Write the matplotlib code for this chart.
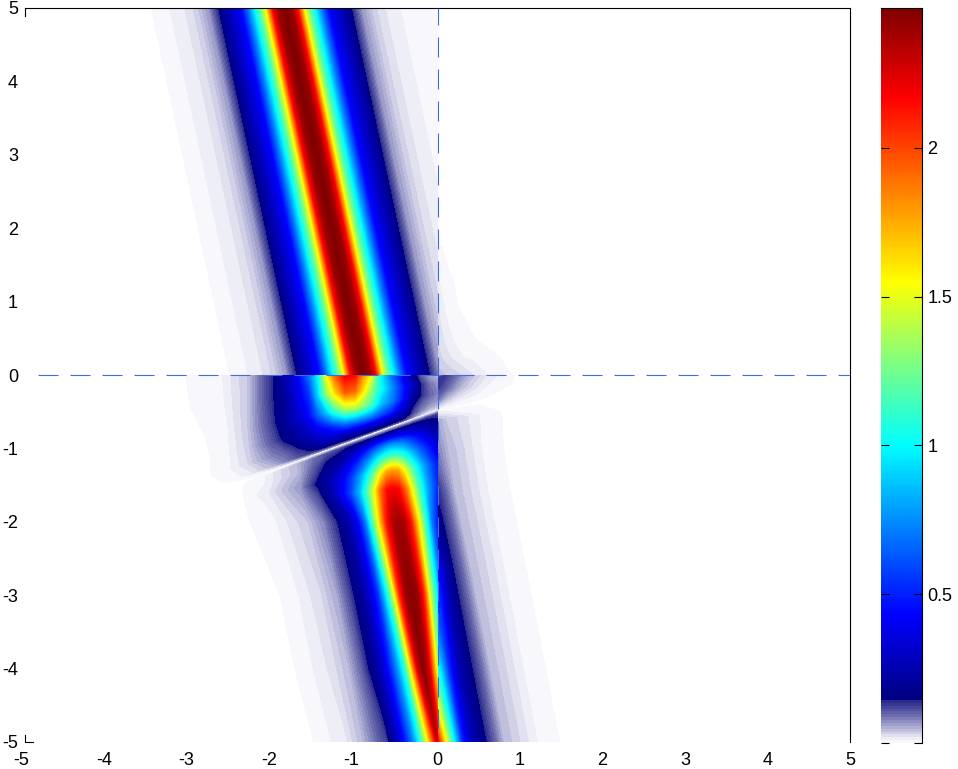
import numpy as np
import matplotlib
matplotlib.use("Agg")
import matplotlib.pyplot as plt
from matplotlib.colors import LinearSegmentedColormap, Normalize
from matplotlib.patches import Rectangle
from matplotlib.transforms import ScaledTranslation

plt.rcParams["font.family"] = ["Liberation Sans", "DejaVu Sans"]
plt.rcParams["axes.unicode_minus"] = False
plt.rcParams["lines.scale_dashes"] = False

###################
# Values read off #
###################
x_ticks = [-5, -4, -3, -2, -1, 0, 1, 2, 3, 4, 5]
y_ticks = [-5, -4, -3, -2, -1, 0, 1, 2, 3, 4, 5]
bar_ticks = [0, 0.5, 1, 1.5, 2]
bar_labels = ["", "0.5", "1", "1.5", "2"]
v_max = 2.47

# palette: value, colour
pal_values = [0, 0.013, 0.052, 0.086, 0.138, 0.14, 0.43, 1.0, 1.28, 1.55, 2.17, 2.47]
pal_colors = ["#f7f7fc", "#ebebf5", "#aaaad2", "#6e6eaf", "#28288c", "#000080",
              "#0000ff", "#00ffff", "#80ff80", "#ffff00", "#ff0000", "#800000"]

# upper band (y > 0, x < 0): row y, band centre, offset across the band, value
up_y = [5, 4, 3, 2, 1, 0]
up_centre = [-1.85, -1.66, -1.47, -1.28, -1.09, -0.9]
up_off = [-1.62, -1.48, -1.25, -1.07, -0.92, -0.81, -0.65, -0.52, -0.44, -0.36, -0.29, -0.23, -0.15, -0.08, 0,
          0.08, 0.15, 0.23, 0.29, 0.36, 0.44, 0.52, 0.65, 0.81, 0.92, 1.07, 1.25, 1.48, 1.7, 2.0]
up_vals = [0.0025, 0.008, 0.018, 0.035, 0.07, 0.14, 0.3, 0.45, 0.7, 1.0, 1.25, 1.55, 2.15, 2.4, 2.47,
           2.4, 2.15, 1.55, 1.25, 1.0, 0.7, 0.45, 0.3, 0.14, 0.07, 0.035, 0.018, 0.008, 0.003, 0]

# wisp right of x=0 above y=0
wisp_y = [0, 0.25, 0.5, 1, 1.75]
wisp_x = [0, 0.1, 0.2, 0.3, 0.45, 0.6, 0.9]
wisp_z = [[0.045, 0.04, 0.035, 0.03, 0.02, 0.012, 0.002],
          [0.035, 0.025, 0.018, 0.012, 0.008, 0.004, 0],
          [0.03, 0.018, 0.01, 0.006, 0.002, 0, 0],
          [0.02, 0.008, 0.003, 0, 0, 0, 0],
          [0.004, 0, 0, 0, 0, 0, 0]]

# piece between y=0 and the white diagonal, x < 0; rows are fractions of the way to the diagonal
line_a_left, line_s_left = -0.477, 0.411
mid_f = [0, 0.25, 0.5, 0.7, 0.85, 0.95, 1]
mid_x = [-3.05, -2.6, -2.3, -2, -1.85, -1.7, -1.55, -1.45, -1.35, -1.25, -1.12, -1, -0.9, -0.8,
         -0.7, -0.55, -0.4, -0.3, -0.2, -0.1, 0]
mid_z = [[0.002, 0.012, 0.04, 0.14, 0.25, 0.4, 0.7, 1.0, 1.5, 1.9, 2.2, 2.15, 1.8, 1.5, 1.0, 0.65, 0.35, 0.18, 0.1, 0.06, 0.05],
         [0.001, 0.01, 0.04, 0.14, 0.2, 0.35, 0.55, 0.9, 1.3, 1.6, 1.95, 1.9, 1.6, 1.3, 1.05, 0.75, 0.45, 0.3, 0.14, 0.09, 0.07],
         [0, 0.004, 0.04, 0.13, 0.2, 0.3, 0.45, 0.65, 0.85, 1.1, 1.35, 1.4, 1.3, 1.15, 0.9, 0.7, 0.42, 0.2, 0.14, 0.1, 0.08],
         [0, 0.003, 0.035, 0.11, 0.16, 0.22, 0.3, 0.38, 0.45, 0.55, 0.7, 0.72, 0.72, 0.7, 0.62, 0.5, 0.3, 0.15, 0.1, 0.08, 0.07],
         [0, 0.003, 0.03, 0.08, 0.1, 0.14, 0.2, 0.25, 0.3, 0.3, 0.3, 0.32, 0.32, 0.3, 0.3, 0.26, 0.2, 0.12, 0.08, 0.06, 0.05],
         [0, 0.002, 0.015, 0.05, 0.08, 0.11, 0.13, 0.14, 0.14, 0.14, 0.14, 0.14, 0.14, 0.14, 0.14, 0.13, 0.12, 0.08, 0.05, 0.03, 0.03],
         [0] * 21]

# same piece right of x=0
line_a_right, line_s_right = -0.477, 0.2
midr_f = [0, 0.4, 0.7, 0.9, 1]
midr_x = [0, 0.1, 0.2, 0.3, 0.45, 0.6, 0.8, 1.0]
midr_z = [[0.14, 0.13, 0.1, 0.07, 0.04, 0.02, 0.006, 0],
          [0.13, 0.1, 0.07, 0.045, 0.025, 0.012, 0.004, 0],
          [0.09, 0.05, 0.03, 0.02, 0.012, 0.006, 0, 0],
          [0.03, 0.015, 0.01, 0.005, 0.003, 0, 0, 0],
          [0, 0, 0, 0, 0, 0, 0, 0]]

# lower band, x < 0: row height at x=0, row tilt, band centre
low_a = [-0.477, -0.54, -0.75, -0.95, -1.2, -1.5, -2, -3, -4, -5]
low_s = [0.411, 0.4, 0.35, 0.28, 0.2, 0.1, 0, 0, 0, 0]
low_centre = [-0.6, -0.6, -0.58, -0.56, -0.55, -0.54, -0.47, -0.31, -0.17, 0]
low_off = [-1.8, -1.5, -1.1, -0.9, -0.75, -0.6, -0.5, -0.4, -0.3, -0.22, -0.15, -0.07, 0,
           0.07, 0.15, 0.22, 0.3, 0.4, 0.5, 0.6, 0.75, 0.9]
low_z = [[0] * 22,
         [0, 0.01, 0.05, 0.09, 0.11, 0.12, 0.13, 0.13, 0.13, 0.13, 0.13, 0.13, 0.13, 0.13, 0.13, 0.13, 0.13, 0.13, 0.13, 0.13, 0.13, 0.1],
         [0.001, 0.012, 0.05, 0.11, 0.16, 0.2, 0.28, 0.38, 0.48, 0.58, 0.66, 0.72, 0.75, 0.72, 0.66, 0.58, 0.48, 0.38, 0.28, 0.2, 0.16, 0.1],
         [0.002, 0.015, 0.06, 0.13, 0.2, 0.3, 0.42, 0.55, 0.72, 0.88, 1.02, 1.12, 1.15, 1.12, 1.02, 0.88, 0.72, 0.55, 0.42, 0.3, 0.22, 0.13],
         [0.002, 0.02, 0.07, 0.16, 0.25, 0.4, 0.55, 0.75, 1.0, 1.25, 1.5, 1.75, 1.8, 1.75, 1.5, 1.25, 1.0, 0.75, 0.55, 0.4, 0.3, 0.2],
         [0.002, 0.015, 0.06, 0.12, 0.22, 0.43, 0.6, 0.85, 1.2, 1.55, 1.9, 2.15, 2.2, 2.15, 1.9, 1.55, 1.2, 0.85, 0.6, 0.43, 0.3, 0.14],
         [0.002, 0.01, 0.04, 0.08, 0.14, 0.24, 0.38, 0.7, 1.25, 1.7, 2.1, 2.35, 2.4, 2.35, 2.1, 1.7, 1.25, 0.7, 0.38, 0.24, 0.14, 0.08],
         [0, 0.003, 0.03, 0.06, 0.12, 0.2, 0.33, 0.55, 1.0, 1.45, 2.05, 2.4, 2.45, 2.4, 2.05, 1.45, 1.0, 0.55, 0.33, 0.2, 0.12, 0.06],
         [0, 0.0025, 0.025, 0.05, 0.1, 0.18, 0.3, 0.5, 0.8, 1.1, 1.6, 2.25, 2.45, 2.25, 1.6, 1.1, 0.8, 0.5, 0.3, 0.18, 0.1, 0.05],
         [0, 0.002, 0.02, 0.05, 0.09, 0.13, 0.25, 0.45, 0.7, 1.0, 1.35, 1.85, 2.3, 1.85, 1.35, 1.0, 0.7, 0.45, 0.25, 0.13, 0.09, 0.05]]

# lower band, x > 0: rows follow the navy edge of the band
lowr_a = [-0.477, -0.62, -1.0, -1.57, -1.95, -2.61, -4, -5]
lowr_s = [0.2, 0.15, 0, 0, 0, 0, 0, 0]
lowr_edge = [-0.1, -0.1, -0.08, 0, 0.07, 0.19, 0.43, 0.6]
lowr_off = [-0.6, -0.5, -0.4, -0.3, -0.2, -0.1, 0, 0.2, 0.6, 0.88]
lowr_z = [[0] * 10,
          [0.1, 0.1, 0.1, 0.1, 0.1, 0.1, 0.08, 0.04, 0.012, 0.002],
          [0.1, 0.1, 0.1, 0.1, 0.1, 0.1, 0.1, 0.05, 0.012, 0.002],
          [0.3, 0.3, 0.25, 0.2, 0.18, 0.16, 0.14, 0.05, 0.012, 0.002],
          [0.6, 0.55, 0.5, 0.4, 0.3, 0.2, 0.14, 0.05, 0.012, 0.002],
          [1.0, 0.9, 0.8, 0.65, 0.48, 0.25, 0.14, 0.05, 0.012, 0.002],
          [1.8, 1.3, 0.95, 0.55, 0.3, 0.2, 0.14, 0.05, 0.012, 0.002],
          [2.2, 1.55, 1.0, 0.5, 0.3, 0.2, 0.14, 0.05, 0.012, 0.002]]

#########
# Setup #
#########
W, H = 958, 769
cmap = LinearSegmentedColormap.from_list(
    "band", [(v / v_max, c) for v, c in zip(pal_values, pal_colors)], N=256)
norm = Normalize(0, v_max)
levels = np.linspace(0.002, v_max, 257)

fig = plt.figure(figsize=(W / 100, H / 100), dpi=100)
ax = fig.add_axes([25 / W, (H - 742) / H, 825 / W, 734 / H])
cax = fig.add_axes([881 / W, (H - 743) / H, 41 / W, 735 / H])


def draw_piece(X, Y, Z, x0, x1, y0, y1):
    cs = ax.contourf(X, Y, np.array(Z, dtype=float), levels=levels, cmap=cmap, norm=norm,
                     antialiased=False)
    cs.set_clip_path(Rectangle((x0, y0), x1 - x0, y1 - y0, transform=ax.transData))


# Upper band
X = np.array(up_centre)[:, None] + np.array(up_off)
Y = np.array(up_y, dtype=float)[:, None] * np.ones(len(up_off))
draw_piece(X, Y, np.tile(up_vals, (len(up_y), 1)), -5, 0, 0, 5)

# Wisp right of x=0
X, Y = np.meshgrid(wisp_x, wisp_y)
draw_piece(X, Y, wisp_z, 0, 5, 0, 5)

# Between y=0 and the diagonal
X = np.tile(mid_x, (len(mid_f), 1))
Y = np.array(mid_f)[:, None] * (line_a_left + line_s_left * X)
draw_piece(X, Y, mid_z, -5, 0, -5, 0)

X = np.tile(midr_x, (len(midr_f), 1))
Y = np.array(midr_f)[:, None] * (line_a_right + line_s_right * X)
draw_piece(X, Y, midr_z, 0, 5, -5, 0)

# Below the diagonal
X = np.array(low_centre)[:, None] + np.array(low_off)
Y = np.array(low_a)[:, None] + np.array(low_s)[:, None] * X
draw_piece(X, Y, low_z, -5, 0, -5, 0)

X = np.array(lowr_edge)[:, None] + np.array(lowr_off)
Y = np.array(lowr_a)[:, None] + np.array(lowr_s)[:, None] * X
draw_piece(X, Y, lowr_z, 0, 5, -5, 0)

# Axes lines
dash = (0, (14.4, 8.64))
ax.plot([-4.84, 5], [0, 0], color="#4169e1", lw=0.8, ls=dash, zorder=5)
ax.plot([0, 0], [-4.82, 5], color="#4169e1", lw=0.8, ls=dash, zorder=5)

ax.set_xlim(-5, 5)
ax.set_ylim(-5, 5)
ax.set_xticks(x_ticks)
ax.set_yticks(y_ticks)
ax.tick_params(length=0, labelsize=13)
ax.tick_params(axis="x", pad=7)
ax.tick_params(axis="y", pad=5)
# negative labels sit a little left of their tick
for v, lab in zip(x_ticks, ax.get_xticklabels()):
    if v < 0:
        lab.set_transform(lab.get_transform() + ScaledTranslation(-3.5 / 100, 0, fig.dpi_scale_trans))
ax.spines["left"].set_visible(False)
ax.spines["bottom"].set_visible(False)
for s in ["top", "right"]:
    ax.spines[s].set_linewidth(0.8)
# corner marks
ax.plot([-5, -5], [5, 4.89], color="k", lw=0.8, clip_on=False)
ax.plot([-5, -5, -4.9], [-4.9, -5, -5], color="k", lw=0.8, clip_on=False)

# Colour bar
grad = np.linspace(0, v_max, 256)[:, None]
cax.imshow(grad, origin="lower", aspect="auto", extent=[0, 1, 0, v_max], cmap=cmap, norm=norm,
           interpolation="nearest")
cax.set_xticks([])
cax.set_yticks(bar_ticks)
cax.set_yticklabels(bar_labels)
cax.tick_params(axis="y", direction="in", left=True, right=True, labelleft=False, labelright=True,
                length=5.5, width=0.8, labelsize=13, pad=4)
cax.spines["left"].set_visible(False)
cax.spines["bottom"].set_visible(False)
for s in ["top", "right"]:
    cax.spines[s].set_linewidth(0.8)

plt.savefig("out.png", dpi=100)
